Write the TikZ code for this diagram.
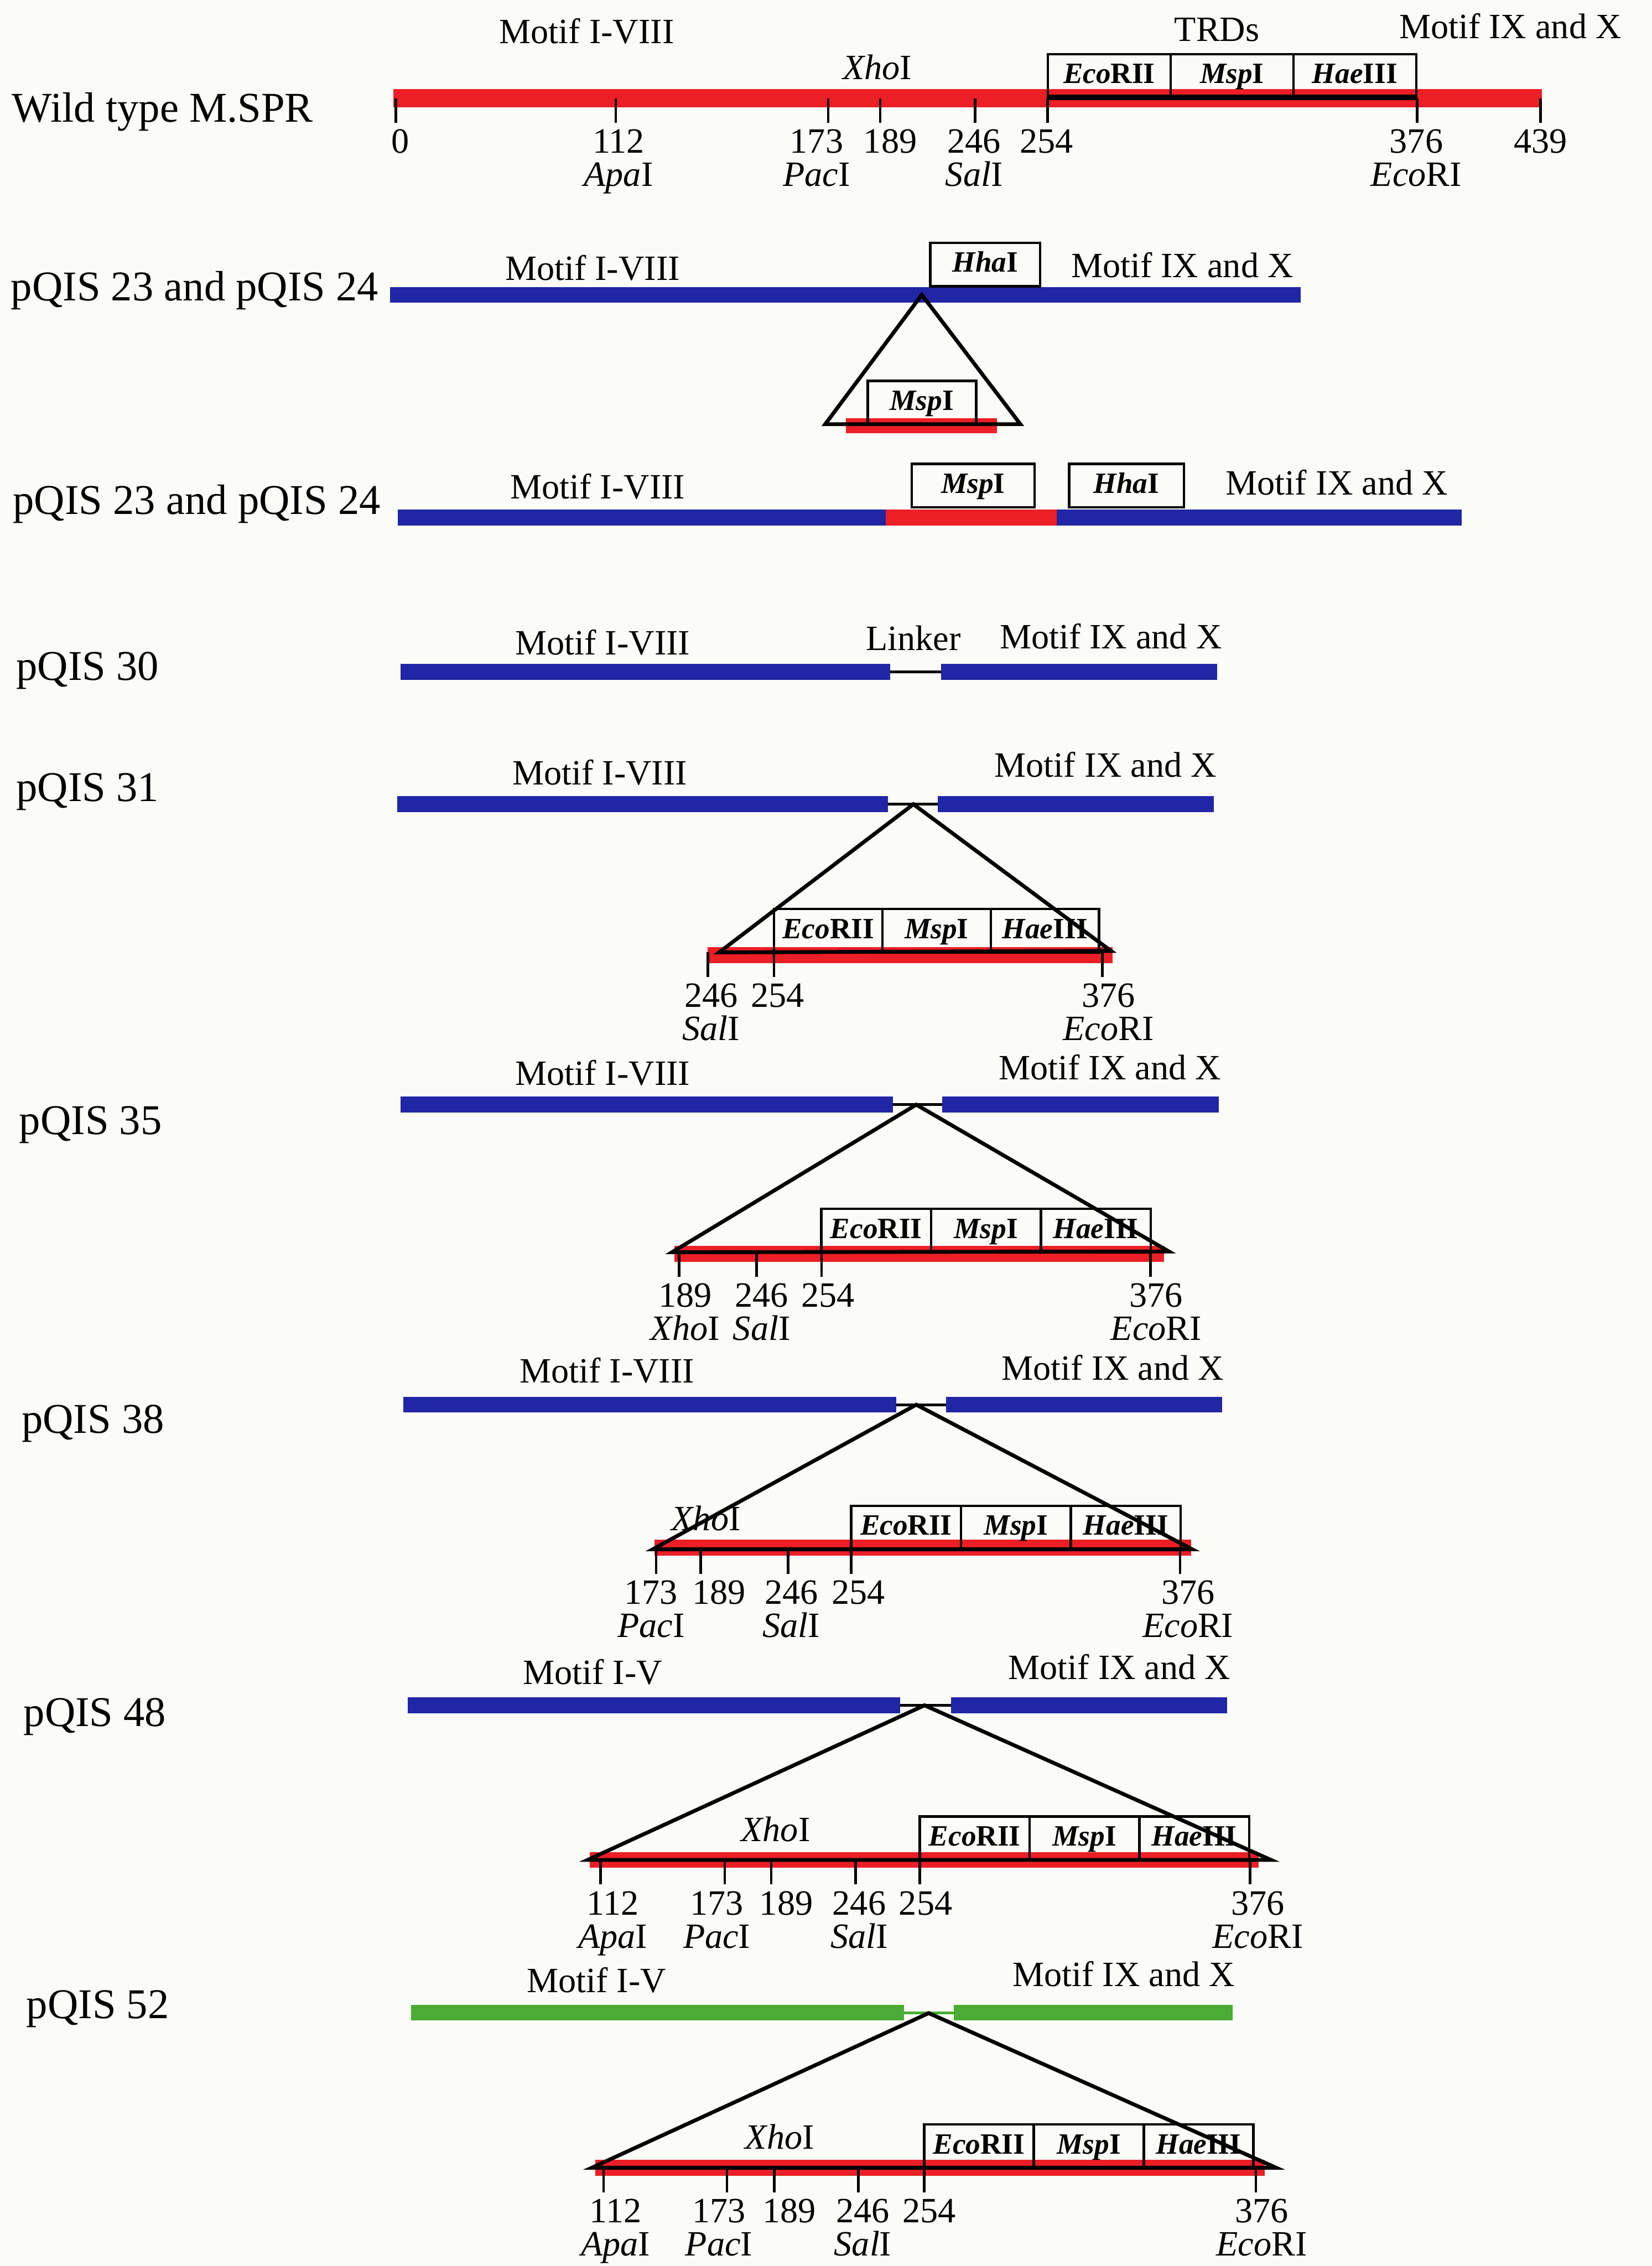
\documentclass[tikz,border=0pt]{standalone}
\usepackage{fontspec}
\setmainfont{Liberation Serif}
\usepackage{tikz}
\usetikzlibrary{positioning}
\usetikzlibrary{calc}
\definecolor{spred}{RGB}{236,30,38}
\definecolor{spblue}{RGB}{32,38,165}
\definecolor{spgreen}{RGB}{74,172,52}
\definecolor{paper}{RGB}{251,251,247}
\tikzstyle{construct}=[font=\fontsize{16.7}{20}\selectfont,anchor=base west,inner sep=0pt]
\tikzstyle{motif}=[font=\fontsize{14}{17}\selectfont,anchor=base,inner sep=0pt]
\tikzstyle{sitelabel}=[font=\fontsize{14}{17}\selectfont,anchor=base,inner sep=0pt]
\tikzstyle{trd}=[draw,rectangle,line width=1pt,inner sep=0pt,outer sep=0pt,minimum height=0.6cm,text height=6pt,text depth=0pt,font=\fontsize{11.6}{13}\selectfont\bfseries]
\tikzstyle{redbar}=[draw=spred,line width=0.24cm]
\tikzstyle{bluebar}=[draw=spblue,line width=0.22cm]
\tikzstyle{greenbar}=[draw=spgreen,line width=0.22cm]
\tikzstyle{linker}=[draw=black,line width=1.1pt]
\tikzstyle{sitetick}=[draw=black,line width=1pt]
\tikzstyle{wedge}=[draw=black,line width=1.5pt]
\newcommand{\site}[6]{%
	\coordinate (#1-#2a) at (#3,#5);
	\coordinate (#1-#2b) at (#3,#5+17);
	\draw[sitetick] (#1-#2a) -- (#1-#2b);
	\node (#1-#2) [sitelabel] at (#4,#5+38) {#2};
	\if\relax\detokenize{#6}\relax\else
	\node (#1-#2e) [sitelabel] at (#4,#5+61) {#6};
	\fi}
\newcommand{\trds}[4]{%
	\node (#1-eco) [trd,minimum width=#4,anchor=south west] at (#2,#3) {\textit{Eco}RII};
	\node (#1-msp) [trd,minimum width=#4,right=of #1-eco] {\textit{Msp}I};
	\node (#1-hae) [trd,minimum width=#4,right=of #1-msp] {\textit{Hae}III};}

\begin{document}
\begin{tikzpicture}
	[x=0.02cm,y=-0.02cm,node distance=0pt]
	\fill[paper] (0,0) rectangle (1143,1568);
	\useasboundingbox (0,0) rectangle (1143,1568);
	
	\node (wt) [construct] at (8,84.4) {Wild type M.SPR};
	\coordinate (wt-l) at (272,68);
	\coordinate (wt-r) at (1067,68);
	\draw[redbar,line width=0.25cm] (wt-l) -- (wt-r);
	\node (wt-m1) [motif] at (406,30) {Motif I-VIII};
	\node (wt-trd) [motif] at (842,28.6) {TRDs};
	\node (wt-m2) [motif] at (1045,26.5) {Motif IX and X};
	\node (wt-xho) [motif] at (607,55) {\textit{Xho}I};
	\trds{wt}{725}{67.5}{1.7cm}
	\draw[line width=2.2pt] (wt-eco.south west) -- (wt-hae.south east);
	\site{wt}{0}{273.9}{277}{68}{}
	\site{wt}{112}{426}{428}{68}{\textit{Apa}I}
	\site{wt}{173}{573}{565}{68}{\textit{Pac}I}
	\site{wt}{189}{609}{616}{68}{}
	\site{wt}{246}{674.7}{674}{68}{\textit{Sal}I}
	\site{wt}{254}{724.8}{724}{68}{}
	\site{wt}{376}{980.5}{980}{68}{\textit{Eco}RI}
	\site{wt}{439}{1066}{1066}{68}{}
	
	\node (p23a) [construct] at (7.3,208) {pQIS 23 and pQIS 24};
	\coordinate (p23a-l) at (270,204);
	\coordinate (p23a-r) at (900,204);
	\draw[bluebar] (p23a-l) -- (p23a-r);
	\node (p23a-m1) [motif] at (410,194) {Motif I-VIII};
	\node (p23a-m2) [motif] at (818,192) {Motif IX and X};
	\node (p23a-hha) [trd,minimum width=1.52cm,anchor=south west] at (643.7,198) {\textit{Hha}I};
	\coordinate (p23a-il) at (585.4,294.5);
	\coordinate (p23a-ir) at (690,294.5);
	\draw[redbar,line width=0.21cm] (p23a-il) -- (p23a-ir);
	\node (p23a-msp) [trd,minimum width=1.5cm,anchor=south west] at (600.4,293.5) {\textit{Msp}I};
	\coordinate (p23a-apex) at (637.8,204);
	\coordinate (p23a-bl) at (571,293.5);
	\coordinate (p23a-br) at (706,293.5);
	\draw[wedge] (p23a-apex) -- (p23a-bl) -- (p23a-br) -- cycle;
	
	\node (p23b) [construct] at (8.7,355.8) {pQIS 23 and pQIS 24};
	\coordinate (p23b-l) at (275.4,358);
	\coordinate (p23b-a) at (613,358);
	\coordinate (p23b-b) at (731,358);
	\coordinate (p23b-r) at (1011.3,358);
	\draw[bluebar] (p23b-l) -- (p23b-a);
	\draw[redbar,line width=0.22cm] (p23b-a) -- (p23b-b);
	\draw[bluebar] (p23b-b) -- (p23b-r);
	\node (p23b-m1) [motif] at (413.6,345) {Motif I-VIII};
	\node (p23b-m2) [motif] at (925,342.3) {Motif IX and X};
	\node (p23b-msp) [trd,minimum width=1.7cm,anchor=south west] at (630.8,351) {\textit{Msp}I};
	\node (p23b-hha) [trd,minimum width=1.59cm,anchor=south west] at (739.7,351) {\textit{Hha}I};
	
	\node (p30) [construct] at (11,470.7) {pQIS 30};
	\coordinate (p30-l) at (277,465);
	\coordinate (p30-a) at (616,465);
	\coordinate (p30-b) at (651,465);
	\coordinate (p30-r) at (842,465);
	\draw[bluebar] (p30-l) -- (p30-a);
	\draw[linker] (p30-a) -- (p30-b);
	\draw[bluebar] (p30-b) -- (p30-r);
	\node (p30-m1) [motif] at (417,453) {Motif I-VIII};
	\node (p30-lk) [motif] at (632,450) {Linker};
	\node (p30-m2) [motif] at (768.6,449) {Motif IX and X};
	
	\node (p31) [construct] at (11,554.4) {pQIS 31};
	\coordinate (p31-l) at (275,556.5);
	\coordinate (p31-a) at (614.5,556.5);
	\coordinate (p31-b) at (649,556.5);
	\coordinate (p31-r) at (840,556.5);
	\draw[bluebar] (p31-l) -- (p31-a);
	\draw[linker] (p31-a) -- (p31-b);
	\draw[bluebar] (p31-b) -- (p31-r);
	\node (p31-m1) [motif] at (415,543) {Motif I-VIII};
	\node (p31-m2) [motif] at (765,537.7) {Motif IX and X};
	\coordinate (p31-il) at (489.6,661);
	\coordinate (p31-ir) at (770,661);
	\draw[redbar,line width=0.22cm] (p31-il) -- (p31-ir);
	\trds{p31}{535.6}{659}{1.5cm}
	\coordinate (p31-apex) at (632,556.5);
	\coordinate (p31-bl) at (497.6,659);
	\coordinate (p31-br) at (768.7,658);
	\draw[wedge] (p31-apex) -- (p31-bl) -- (p31-br) -- cycle;
	\site{p31}{246}{489.8}{492}{659}{\textit{Sal}I}
	\site{p31}{254}{535.6}{538}{659}{}
	\site{p31}{376}{762.8}{767}{659}{\textit{Eco}RI}
	
	\node (p35) [construct] at (13,785) {pQIS 35};
	\coordinate (p35-l) at (277,764.4);
	\coordinate (p35-a) at (618,764.4);
	\coordinate (p35-b) at (652,764.4);
	\coordinate (p35-r) at (843.5,764.4);
	\draw[bluebar] (p35-l) -- (p35-a);
	\draw[linker] (p35-a) -- (p35-b);
	\draw[bluebar] (p35-b) -- (p35-r);
	\node (p35-m1) [motif] at (417,751) {Motif I-VIII};
	\node (p35-m2) [motif] at (768,747) {Motif IX and X};
	\coordinate (p35-il) at (466.6,867.7);
	\coordinate (p35-ir) at (805.5,867.7);
	\draw[redbar,line width=0.22cm] (p35-il) -- (p35-ir);
	\trds{p35}{568.3}{866.5}{1.52cm}
	\coordinate (p35-apex) at (634,764.4);
	\coordinate (p35-bl) at (465,866.5);
	\coordinate (p35-br) at (808.8,866);
	\draw[wedge] (p35-apex) -- (p35-bl) -- (p35-br) -- cycle;
	\site{p35}{189}{470}{474}{866.5}{\textit{Xho}I}
	\site{p35}{246}{523.5}{527}{866.5}{\textit{Sal}I}
	\site{p35}{254}{568.5}{573}{866.5}{}
	\site{p35}{376}{796}{800}{866.5}{\textit{Eco}RI}
	
	\node (p38) [construct] at (14.6,991.5) {pQIS 38};
	\coordinate (p38-l) at (279,972);
	\coordinate (p38-a) at (620,972);
	\coordinate (p38-b) at (654.6,972);
	\coordinate (p38-r) at (845.6,972);
	\draw[bluebar] (p38-l) -- (p38-a);
	\draw[linker] (p38-a) -- (p38-b);
	\draw[bluebar] (p38-b) -- (p38-r);
	\node (p38-m1) [motif] at (420,957) {Motif I-VIII};
	\node (p38-m2) [motif] at (770,955) {Motif IX and X};
	\coordinate (p38-il) at (453,1071);
	\coordinate (p38-ir) at (824,1071);
	\draw[redbar,line width=0.22cm] (p38-il) -- (p38-ir);
	\node (p38-xho) [motif] at (488.5,1059) {\textit{Xho}I};
	\trds{p38}{589}{1072}{1.52cm}
	\coordinate (p38-apex) at (634,972);
	\coordinate (p38-bl) at (451.8,1072);
	\coordinate (p38-br) at (824.8,1072);
	\draw[wedge] (p38-apex) -- (p38-bl) -- (p38-br) -- cycle;
	\site{p38}{173}{454}{450.5}{1072}{\textit{Pac}I}
	\site{p38}{189}{484.8}{497.6}{1072}{}
	\site{p38}{246}{545.3}{547.5}{1072}{\textit{Sal}I}
	\site{p38}{254}{589}{594}{1072}{}
	\site{p38}{376}{816.5}{822}{1072}{\textit{Eco}RI}
	
	\node (p48) [construct] at (16,1194.4) {pQIS 48};
	\coordinate (p48-l) at (282,1180);
	\coordinate (p48-a) at (623,1180);
	\coordinate (p48-b) at (658,1180);
	\coordinate (p48-r) at (849,1180);
	\draw[bluebar] (p48-l) -- (p48-a);
	\draw[linker] (p48-a) -- (p48-b);
	\draw[bluebar] (p48-b) -- (p48-r);
	\node (p48-m1) [motif] at (410,1165.5) {Motif I-V};
	\node (p48-m2) [motif] at (774.6,1162) {Motif IX and X};
	\coordinate (p48-il) at (408,1287);
	\coordinate (p48-ir) at (871,1287);
	\draw[redbar,line width=0.22cm] (p48-il) -- (p48-ir);
	\node (p48-xho) [motif] at (536.7,1274) {\textit{Xho}I};
	\trds{p48}{636.4}{1287}{1.52cm}
	\coordinate (p48-apex) at (639.7,1180);
	\coordinate (p48-bl) at (406.6,1287);
	\coordinate (p48-br) at (879.4,1287);
	\draw[wedge] (p48-apex) -- (p48-bl) -- (p48-br) -- cycle;
	\site{p48}{112}{415.5}{424}{1287}{\textit{Apa}I}
	\site{p48}{173}{501.5}{496}{1287}{\textit{Pac}I}
	\site{p48}{189}{533.6}{544}{1287}{}
	\site{p48}{246}{592}{594.5}{1287}{\textit{Sal}I}
	\site{p48}{254}{636.4}{640.5}{1287}{}
	\site{p48}{376}{865}{870.4}{1287}{\textit{Eco}RI}
	
	\node (p52) [construct] at (18,1396.5) {pQIS 52};
	\coordinate (p52-l) at (284.3,1392.7);
	\coordinate (p52-a) at (625.5,1392.7);
	\coordinate (p52-b) at (660,1392.7);
	\coordinate (p52-r) at (853,1392.7);
	\draw[greenbar] (p52-l) -- (p52-a);
	\draw[linker,draw=spgreen] (p52-a) -- (p52-b);
	\draw[greenbar] (p52-b) -- (p52-r);
	\node (p52-m1) [motif] at (412.7,1378.6) {Motif I-V};
	\node (p52-m2) [motif] at (777.5,1374.5) {Motif IX and X};
	\coordinate (p52-il) at (412,1500);
	\coordinate (p52-ir) at (875,1500);
	\draw[redbar,line width=0.22cm] (p52-il) -- (p52-ir);
	\node (p52-xho) [motif] at (539.5,1487) {\textit{Xho}I};
	\trds{p52}{639.4}{1500}{1.52cm}
	\coordinate (p52-apex) at (642.6,1393);
	\coordinate (p52-bl) at (409.5,1500);
	\coordinate (p52-br) at (883,1500);
	\draw[wedge] (p52-apex) -- (p52-bl) -- (p52-br) -- cycle;
	\site{p52}{112}{417.7}{426}{1500}{\textit{Apa}I}
	\site{p52}{173}{503}{497.5}{1500}{\textit{Pac}I}
	\site{p52}{189}{535.8}{546}{1500}{}
	\site{p52}{246}{594}{597}{1500}{\textit{Sal}I}
	\site{p52}{254}{639.4}{643}{1500}{}
	\site{p52}{376}{869}{873}{1500}{\textit{Eco}RI}
\end{tikzpicture}
\end{document}
